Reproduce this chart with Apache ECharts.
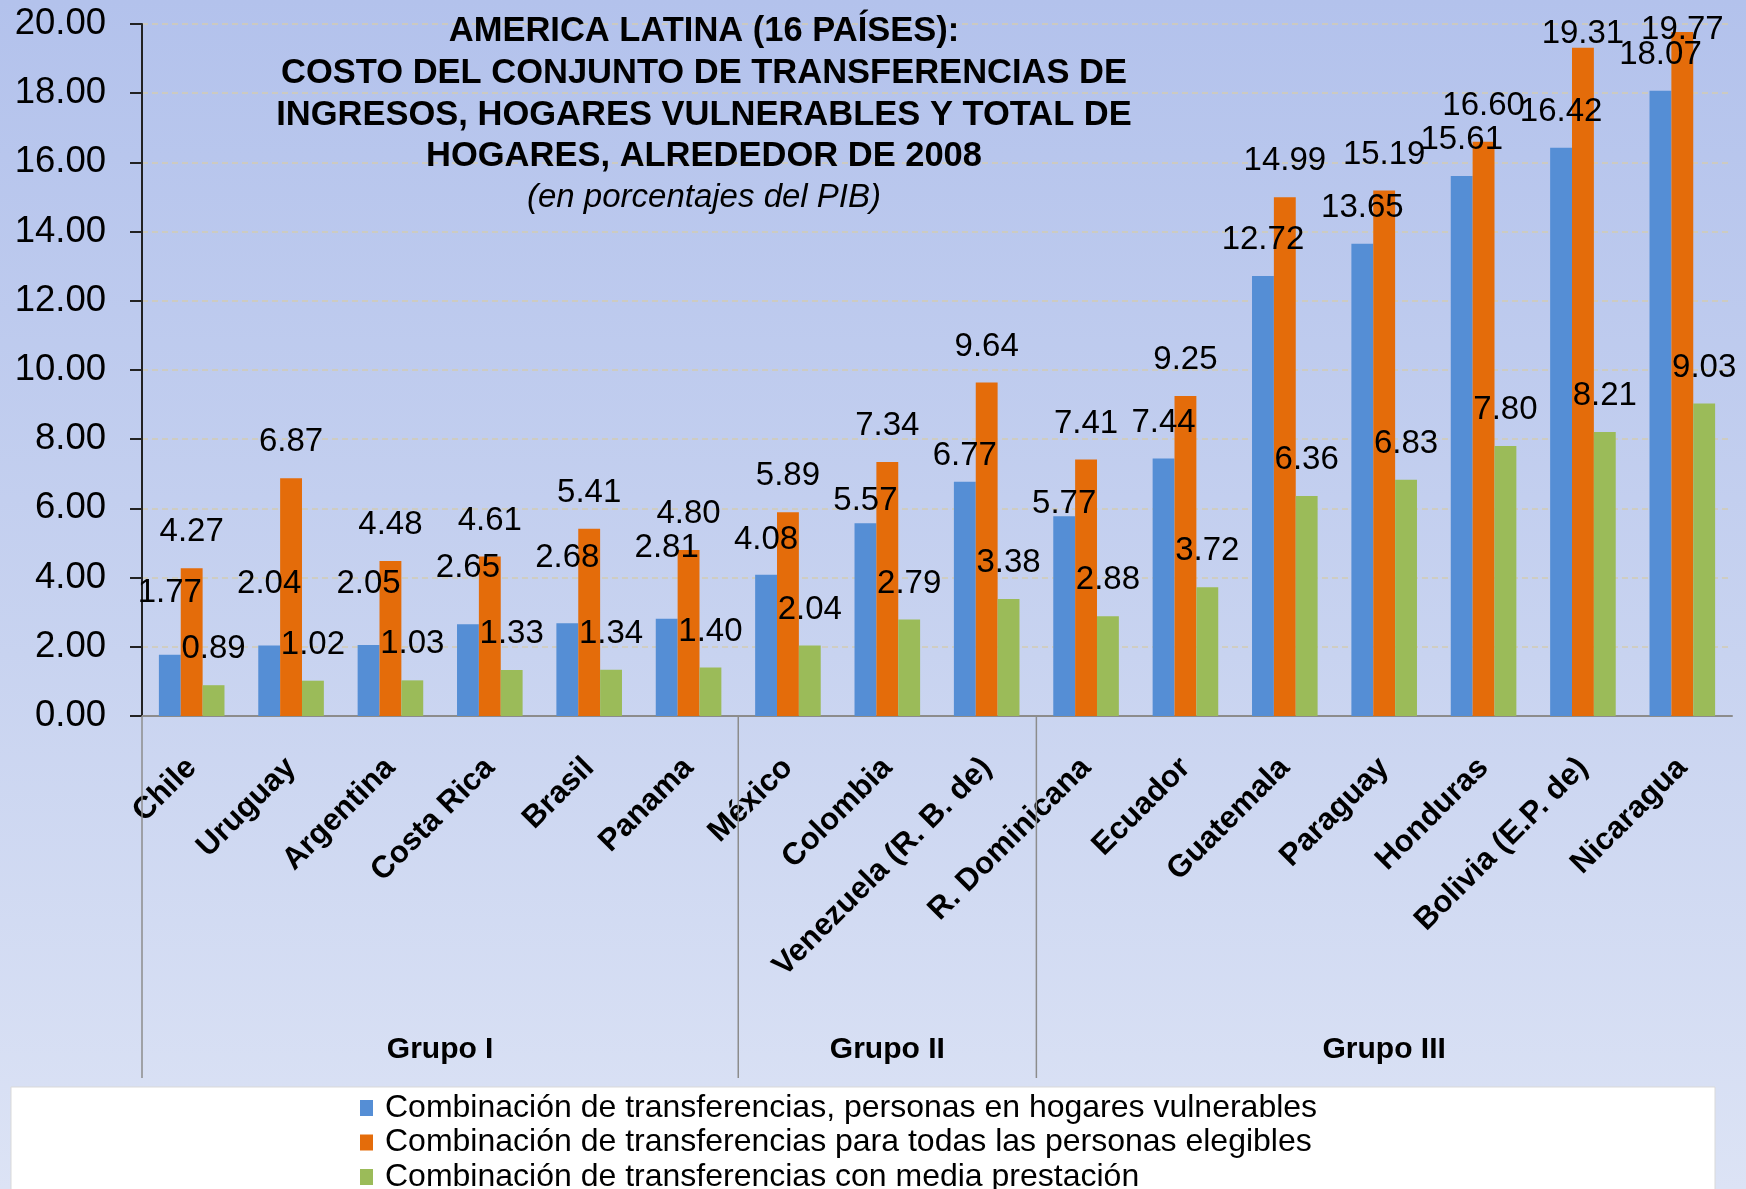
<!DOCTYPE html>
<html>
<head>
<meta charset="utf-8">
<title>America Latina: costo del conjunto de transferencias</title>
<script src="https://cdn.jsdelivr.net/npm/echarts@6/dist/echarts.min.js"></script>
<style>
  html, body { margin: 0; padding: 0; }
  #chart {
    width: 1746px;
    height: 1189px;
    background: linear-gradient(to bottom, #b3c2ec 0%, #c8d3f0 55%, #dce3f5 100%);
  }
</style>
</head>
<body>
<div id="chart"></div>
<script>
// --- datos ---
const countries = [
  'Chile', 'Uruguay', 'Argentina', 'Costa Rica', 'Brasil', 'Panama',
  'México', 'Colombia', 'Venezuela (R. B. de)',
  'R. Dominicana', 'Ecuador', 'Guatemala', 'Paraguay', 'Honduras', 'Bolivia (E.P. de)', 'Nicaragua',
]
const groupNames = ['Grupo I', 'Grupo II', 'Grupo III']
const groupSizes = [6, 3, 7]

const seriesNames = [
  'Combinación de transferencias, personas en hogares vulnerables',
  'Combinación de transferencias para todas las personas elegibles',
  'Combinación de transferencias con media prestación',
]
const vulnerables = [1.77, 2.04, 2.05, 2.65, 2.68, 2.81, 4.08, 5.57, 6.77, 5.77, 7.44, 12.72, 13.65, 15.61, 16.42, 18.07]
const elegibles = [4.27, 6.87, 4.48, 4.61, 5.41, 4.80, 5.89, 7.34, 9.64, 7.41, 9.25, 14.99, 15.19, 16.60, 19.31, 19.77]
const mediaPrestacion = [0.89, 1.02, 1.03, 1.33, 1.34, 1.40, 2.04, 2.79, 3.38, 2.88, 3.72, 6.36, 6.83, 7.80, 8.21, 9.03]

// etiquetas colocadas a mano en el original: distancia (px) del centro de la etiqueta sobre la barra
const liftVulnerables = [62, 62, 61, 56, 65, 71, 35, 22, 26, 12, 36, 36, 36, 36, 36, 36]
const liftElegibles = [36, 36, 36, 36, 36, 36, 36, 36, 36, 36, 36, 36, 36, 36, 14, 2]
const liftMedia = [36, 36, 36, 36, 36, 36, 36, 36, 36, 36, 36, 36, 36, 36, 36, 36]

const colors = ['#558ed5', '#e46c0a', '#9bbb59']
const FONT = '"Liberation Sans", Arial, sans-serif'
const LABEL_SIZE = 33

const withLabels = (values, lifts) => values.map((v, i) => ({
  value: v,
  label: { distance: lifts[i] - LABEL_SIZE / 2 },
}))

const barSeries = (name, values, lifts, color) => ({
  name,
  type: 'bar',
  barGap: '0%',
  barCategoryGap: '34%',
  itemStyle: { color },
  label: {
    show: true,
    position: 'top',
    fontFamily: FONT,
    fontSize: LABEL_SIZE,
    color: '#000',
    formatter: p => p.value.toFixed(2),
  },
  data: withLabels(values, lifts),
})

const chart = echarts.init(document.getElementById('chart'))

const option = {
  backgroundColor: 'transparent',
  animation: false,
  textStyle: { fontFamily: FONT },
  title: {
    text: 'AMERICA LATINA (16 PAÍSES):\nCOSTO DEL CONJUNTO DE TRANSFERENCIAS DE\nINGRESOS, HOGARES VULNERABLES Y TOTAL DE\nHOGARES, ALREDEDOR DE 2008',
    subtext: '(en porcentajes del PIB)',
    left: 704,
    top: 11,
    textAlign: 'center',
    padding: 0,
    itemGap: 0,
    textStyle: { fontFamily: FONT, fontSize: 34.5, fontWeight: 'bold', lineHeight: 41.6, color: '#000' },
    subtextStyle: { fontFamily: FONT, fontSize: 33, fontStyle: 'italic', lineHeight: 40, color: '#000' },
  },
  legend: {
    orient: 'vertical',
    left: 360,
    top: 1092,
    height: 140,
    padding: 0,
    itemGap: 2.5,
    itemWidth: 13,
    itemHeight: 16,
    icon: 'rect',
    textStyle: { fontFamily: FONT, fontSize: 32, lineHeight: 32, color: '#000', padding: [0, 0, 0, 7] },
    data: seriesNames,
  },
  grid: { left: 142, right: 14, top: 24, bottom: 473 },
  xAxis: {
    type: 'category',
    data: countries,
    axisLine: { lineStyle: { color: '#8c8c8c', width: 2 } },
    axisTick: { show: false },
    splitLine: { show: false },
    axisLabel: {
      interval: 0,
      rotate: 45,
      margin: 47,
      fontFamily: FONT,
      fontSize: 31,
      fontWeight: 'bold',
      color: '#000',
      padding: [42, 0, 0, 0],
    },
  },
  yAxis: {
    type: 'value',
    min: 0,
    max: 20,
    interval: 2,
    axisLine: { show: true, lineStyle: { color: '#222', width: 2 } },
    axisTick: { show: true, length: 12, lineStyle: { color: '#222', width: 2 } },
    axisLabel: {
      fontFamily: FONT,
      fontSize: 36.5,
      color: '#000',
      margin: 36,
      formatter: v => v.toFixed(2),
    },
    splitLine: { lineStyle: { color: '#d2cbb2', type: [6, 4], width: 1.5 } },
  },
  series: [
    barSeries(seriesNames[0], vulnerables, liftVulnerables, colors[0]),
    barSeries(seriesNames[1], elegibles, liftElegibles, colors[1]),
    barSeries(seriesNames[2], mediaPrestacion, liftMedia, colors[2]),
  ],
}

chart.setOption(option)

// separadores y nombres de grupo, ubicados con la escala del eje
const drawGroups = () => {
  const c0 = chart.convertToPixel({ xAxisIndex: 0 }, countries[0])
  const c1 = chart.convertToPixel({ xAxisIndex: 0 }, countries[1])
  const band = c1 - c0
  const yZero = chart.convertToPixel({ yAxisIndex: 0 }, 0)
  const lineBottom = 1078
  const elements = [
    {
      type: 'rect',
      z: 0,
      shape: { x: 11, y: 1087, width: 1704, height: 110 },
      style: { fill: '#ffffff', stroke: '#d9d9d9', lineWidth: 1 },
    },
  ]
  let start = 0
  groupSizes.forEach((n, g) => {
    const left = c0 + (start - 0.5) * band
    const right = c0 + (start + n - 0.5) * band
    elements.push({
      type: 'line',
      z: 1,
      shape: { x1: left, y1: yZero, x2: left, y2: lineBottom },
      style: { stroke: '#8c8c8c', lineWidth: 1.5 },
    })
    elements.push({
      type: 'text',
      z: 1,
      x: (left + right) / 2,
      y: 1050,
      style: {
        text: groupNames[g],
        fill: '#000',
        font: 'bold 30px ' + FONT,
        align: 'center',
        verticalAlign: 'middle',
      },
    })
    start += n
  })
  chart.setOption({ graphic: { elements } })
}

drawGroups()
</script>
</body>
</html>
